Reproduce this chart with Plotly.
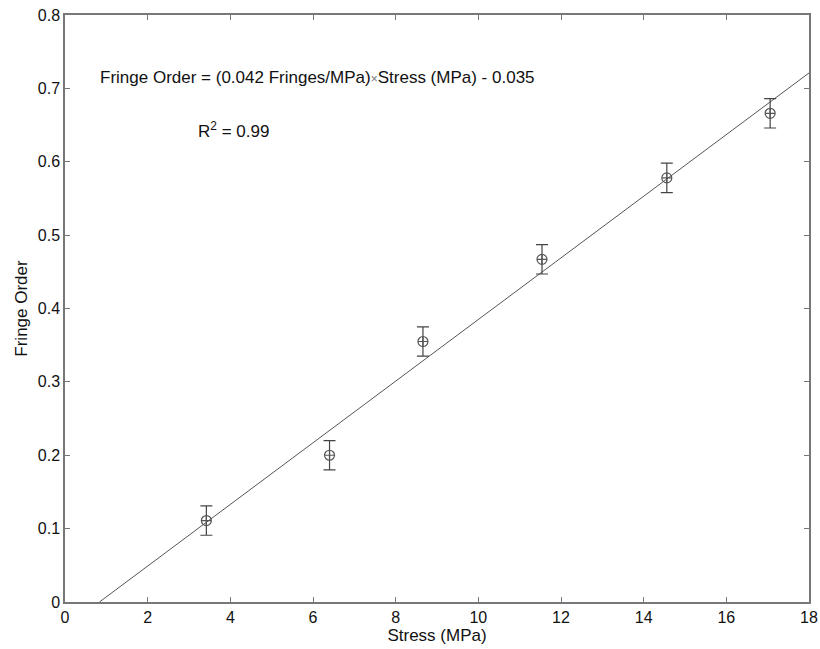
import plotly.graph_objects as go

stress = [3.42, 6.40, 8.66, 11.54, 14.56, 17.06]
fringe = [0.111, 0.200, 0.355, 0.467, 0.578, 0.666]
err = [0.020, 0.020, 0.020, 0.020, 0.020, 0.020]
slope = 0.042
intercept = -0.035
fit_x = [-intercept / slope, 18.0]
fit_y = [slope * v + intercept for v in fit_x]

font = "Arial, Liberation Sans, sans-serif"

fig = go.Figure()
fig.add_trace(go.Scatter(x=fit_x, y=fit_y, mode="lines",
                         line=dict(color="#555555", width=1), showlegend=False))
fig.add_trace(go.Scatter(x=stress, y=fringe, mode="markers",
                         marker=dict(symbol="circle-cross-open", size=10,
                                     color="#555555", line=dict(width=1.2, color="#555555")),
                         error_y=dict(type="data", array=err, visible=True,
                                      color="#444444", thickness=1.2, width=6),
                         showlegend=False))

fig.add_annotation(x=0.8, y=0.7155, xref="x", yref="y", xanchor="left", yanchor="middle",
                   text="Fringe Order = (0.042 Fringes/MPa)<span style='font-size:12px;color:#777'>×</span>Stress (MPa) - 0.035",
                   showarrow=False, font=dict(family=font, size=17, color="#111111"))
fig.add_annotation(x=3.17, y=0.643, xref="x", yref="y", xanchor="left", yanchor="middle",
                   text="R<sup>2</sup> = 0.99",
                   showarrow=False, font=dict(family=font, size=17, color="#111111"))

axis_common = dict(showgrid=False, zeroline=False, showline=True, linecolor="#777777",
                   linewidth=1.5, mirror="ticks", ticks="inside", ticklen=5,
                   tickcolor="#777777", tickwidth=1, automargin=False,
                   tickfont=dict(family=font, size=16, color="#111111"))

fig.update_xaxes(range=[0, 18], tickvals=list(range(0, 19, 2)),
                 title=dict(text="Stress (MPa)", font=dict(family=font, size=17, color="#111111"), standoff=0),
                 **axis_common)
fig.update_yaxes(range=[0, 0.8],
                 tickvals=[0, 0.1, 0.2, 0.3, 0.4, 0.5, 0.6, 0.7, 0.8],
                 ticktext=["0", "0.1", "0.2", "0.3", "0.4", "0.5", "0.6", "0.7", "0.8"],
                 title=dict(text="Fringe Order", font=dict(family=font, size=17, color="#111111"), standoff=6),
                 **axis_common)

fig.update_layout(width=820, height=649, plot_bgcolor="white", paper_bgcolor="white",
                  margin=dict(l=65, r=11, t=15, b=47))
fig.write_html("out.html")
